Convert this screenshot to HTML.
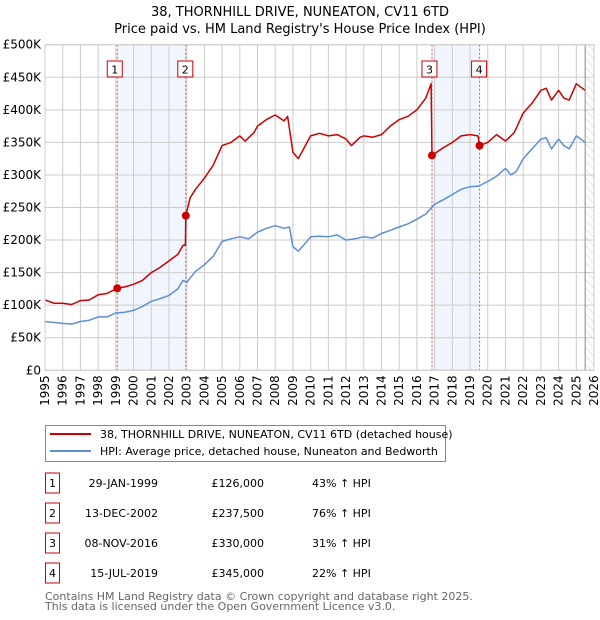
<!DOCTYPE html>
<html><head><meta charset="utf-8"><style>
body{margin:0;background:#fff;font-family:"DejaVu Sans","Liberation Sans",sans-serif;}
#wrap{position:relative;width:600px;height:620px;overflow:hidden;}
svg text{font-family:"DejaVu Sans","Liberation Sans",sans-serif;}
</style></head><body>
<div id="wrap">
<svg id="chart" width="600" height="620"></svg>
</div>
<script>
const yTicks=[0,50,100,150,200,250,300,350,400,450,500];
const yTickLabels=["£0","£50K","£100K","£150K","£200K","£250K","£300K","£350K","£400K","£450K","£500K"];
const years=[1995,1996,1997,1998,1999,2000,2001,2002,2003,2004,2005,2006,2007,2008,2009,2010,2011,2012,2013,2014,2015,2016,2017,2018,2019,2020,2021,2022,2023,2024,2025,2026];
const hpiT=[1995,1996,1996.5,1997,1997.5,1998,1998.5,1999,1999.5,2000,2000.5,2001,2001.5,2002,2002.5,2002.8,2003,2003.5,2004,2004.5,2005,2005.5,2006,2006.5,2007,2007.5,2008,2008.5,2008.8,2009,2009.3,2009.6,2010,2010.5,2011,2011.5,2012,2012.5,2013,2013.5,2014,2014.5,2015,2015.5,2016,2016.5,2017,2017.5,2018,2018.5,2019,2019.5,2020,2020.5,2021,2021.3,2021.6,2022,2022.5,2023,2023.3,2023.6,2024,2024.3,2024.6,2025,2025.5];
const hpiV=[75,72,71,75,77,82,82,88,89,92,98,106,110,115,125,138,135,152,162,175,198,202,205,202,212,218,222,218,220,190,183,192,205,206,205,208,200,202,205,203,210,215,220,225,232,240,255,262,270,278,282,283,290,298,310,300,305,325,340,355,357,340,355,345,340,360,350];
const propT=[1995,1995.5,1996,1996.5,1997,1997.5,1998,1998.5,1999.08,1999.5,2000,2000.5,2001,2001.5,2002,2002.5,2002.8,2002.93,2002.95,2003.2,2003.5,2004,2004.5,2005,2005.5,2006,2006.3,2006.8,2007,2007.5,2008,2008.5,2008.7,2009,2009.3,2009.6,2010,2010.5,2011,2011.5,2012,2012.3,2012.8,2013,2013.5,2014,2014.5,2015,2015.5,2016,2016.5,2016.8,2016.85,2017.5,2018,2018.5,2019,2019.45,2019.54,2020,2020.5,2021,2021.5,2022,2022.5,2023,2023.3,2023.6,2024,2024.3,2024.6,2025,2025.5];
const propV=[108,103,103,101,107,108,116,118,126,128,132,138,150,158,168,178,192,192,237.5,265,278,295,315,345,350,360,352,365,375,385,392,383,390,335,325,340,360,364,360,362,355,345,358,360,358,362,375,385,390,400,418,440,330,342,350,360,362,360,345,350,362,352,365,395,410,430,433,415,430,418,415,440,430];
const saleT=[1999.08,2002.95,2016.85,2019.54];
const saleV=[126,237.5,330,345];
const saleLabels=["1","2","3","4"];

const NS="http://www.w3.org/2000/svg";
const svg=document.getElementById('chart');
const L=45,R=594,T=44.7,B=370.3;
const x=t=>L+(t-1995)*(R-L)/31;
const y=v=>B-v*(B-T)/500;
function mk(tag,a,parent){const e=document.createElementNS(NS,tag);for(const k in a)e.setAttribute(k,a[k]);(parent||svg).appendChild(e);return e;}

function txt(s,a){const e=mk('text',a);e.textContent=s;return e;}
let e;
e=txt("38, THORNHILL DRIVE, NUNEATON, CV11 6TD",{x:300,y:16,'text-anchor':'middle','font-size':13,fill:'#000'});


e=txt("Price paid vs. HM Land Registry's House Price Index (HPI)",{x:300,y:33,'text-anchor':'middle','font-size':13,fill:'#000'});



// shaded bands
[[0,1],[2,3]].forEach(p=>{const r=mk('rect',{x:x(saleT[p[0]]),y:T,width:x(saleT[p[1]])-x(saleT[p[0]]),height:B-T,fill:'#eef3fc',opacity:0.8});

});
// hatch
const defs=mk('defs',{});
const pat=mk('pattern',{id:'h',width:6,height:6,patternUnits:'userSpaceOnUse',patternTransform:'rotate(-45)'},defs);
mk('line',{x1:0,y1:0,x2:0,y2:6,stroke:'#ccc','stroke-width':1},pat);
e=mk('rect',{x:x(2025.5),y:T,width:R-x(2025.5),height:B-T,fill:'url(#h)'});


// grid
yTicks.forEach((v,i)=>{
 e=mk('line',{x1:L,x2:R,y1:y(v),y2:y(v),stroke:'#cccccc','stroke-width':1});
 
 
 e=txt(yTickLabels[i],{x:L-4,y:y(v)+4,'text-anchor':'end','font-size':12,fill:'#000'});
 
 
});
years.forEach(t=>{
 e=mk('line',{x1:x(t),x2:x(t),y1:T,y2:B,stroke:'#cccccc','stroke-width':1});
 
 
 e=txt(String(t),{x:0,y:0,'font-size':12,fill:'#000','text-anchor':'end',transform:`translate(${x(t)+4},${B+5}) rotate(-90)`});
 
 
});
e=mk('line',{x1:x(2025.5),x2:x(2025.5),y1:T,y2:B,stroke:'#888','stroke-width':1});


// sale vlines
saleT.forEach(t=>{e=mk('line',{x1:x(t),x2:x(t),y1:T,y2:B,stroke:'#e05050','stroke-width':1,'stroke-dasharray':'2,2'});

});
// series
function line(T_,V_,col,name){const d=T_.map((t,i)=>(i?'L':'M')+x(t).toFixed(1)+','+y(V_[i]).toFixed(1)).join('');
 const p=mk('path',{d:d,fill:'none',stroke:col,'stroke-width':1.5,'stroke-linejoin':'round'});
 
 }
line(hpiT,hpiV,'#5b8fd4','hpi-line');
line(propT,propV,'#cc0000','property-price-line');
saleT.forEach((t,i)=>{
 e=mk('circle',{cx:x(t),cy:y(saleV[i]),r:4,fill:'#cc0000'});
 
 
 const g=mk('g',{});
 
 
 mk('rect',{x:x(t)-8-(i==0||i==2?2:0),y:61,width:15,height:16,fill:'#fff',stroke:'#cc0000','stroke-width':1},g);
 const tt=mk('text',{x:x(t)-(i==0||i==2?2:0)-0.5,y:73.5,'text-anchor':'middle','font-size':11,fill:'#000'},g);
 tt.textContent=saleLabels[i];
});
mk('rect',{x:L,y:T,width:R-L,height:B-T,fill:'none',stroke:'#cccccc'});
// legend
const lg=mk('g',{});


mk('rect',{x:45.5,y:425.5,width:400,height:36,fill:'#fff',stroke:'#888'},lg);
mk('line',{x1:50,x2:91,y1:434,y2:434,stroke:'#cc0000','stroke-width':2},lg);
mk('line',{x1:50,x2:91,y1:451,y2:451,stroke:'#5b8fd4','stroke-width':2},lg);
let t1=mk('text',{x:100,y:438,'font-size':11,fill:'#000'},lg);t1.textContent="38, THORNHILL DRIVE, NUNEATON, CV11 6TD (detached house)";
let t2=mk('text',{x:100,y:455,'font-size':11,fill:'#000'},lg);t2.textContent="HPI: Average price, detached house, Nuneaton and Bedworth";
// table
const dates=["29-JAN-1999","13-DEC-2002","08-NOV-2016","15-JUL-2019"];
const prices=["£126,000","£237,500","£330,000","£345,000"];
const pct=["43% ↑ HPI","76% ↑ HPI","31% ↑ HPI","22% ↑ HPI"];
dates.forEach((d,i)=>{
 const cy=483+i*30;
 const g=mk('g',{});
 
 
 mk('rect',{x:45.5,y:cy-10,width:14,height:20,fill:'#fff',stroke:'#cc0000'},g);
 let a=mk('text',{x:52.5,y:cy+4,'text-anchor':'middle','font-size':11},g);a.textContent=String(i+1);
 a=mk('text',{x:158,y:cy+4,'text-anchor':'end','font-size':11},g);a.textContent=d;
 a=mk('text',{x:264,y:cy+4,'text-anchor':'end','font-size':11},g);a.textContent=prices[i];
 a=mk('text',{x:312,y:cy+4,'font-size':11},g);a.textContent=pct[i];
});
e=txt("Contains HM Land Registry data © Crown copyright and database right 2025.",{x:45,y:600,'font-size':11,fill:'#666'});


e=txt("This data is licensed under the Open Government Licence v3.0.",{x:45,y:610,'font-size':11,fill:'#666'});


</script>
</body></html>
